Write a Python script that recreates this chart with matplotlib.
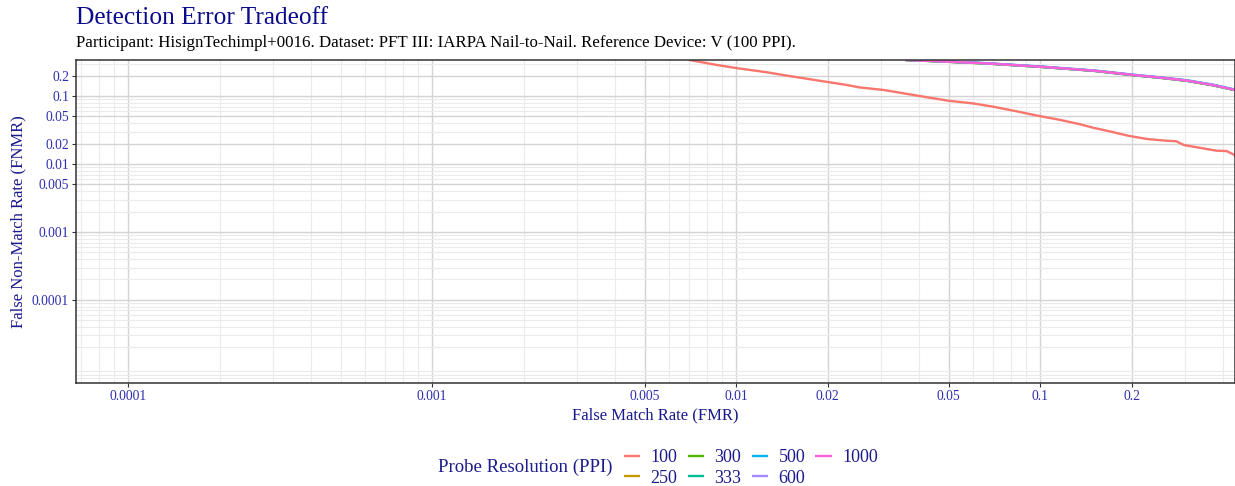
import matplotlib
matplotlib.use('Agg')
import matplotlib.pyplot as plt
from matplotlib.ticker import LogLocator, FixedLocator, FixedFormatter, NullFormatter

# Probe resolutions shown in the legend
resolutions = ['100', '250', '300', '333', '500', '600', '1000']
colors = ['#F8766D', '#C49A00', '#53B400', '#00C094', '#00B6EB', '#A58AFF', '#FB61D7']

# 100 PPI probe curve
fmr_100 = [0.0070, 0.0085, 0.0100, 0.0125, 0.0155, 0.0198, 0.0230, 0.0254, 0.0305, 0.0367,
           0.0430, 0.0499, 0.0600, 0.0700, 0.0830, 0.0980, 0.1150, 0.1340, 0.1500, 0.1710,
           0.1950, 0.2250, 0.2600, 0.2800, 0.2970, 0.3300, 0.3800, 0.4100, 0.4400]
fnmr_100 = [0.340, 0.290, 0.258, 0.225, 0.192, 0.162, 0.146, 0.134, 0.123, 0.107,
            0.095, 0.0853, 0.078, 0.0697, 0.060, 0.0514, 0.045, 0.0388, 0.034, 0.0299,
            0.026, 0.0233, 0.0220, 0.0216, 0.0190, 0.0175, 0.0157, 0.0155, 0.0133]

# the higher resolutions all sit on top of each other
fmr_high = [0.036, 0.050, 0.066, 0.100, 0.150, 0.202, 0.250, 0.305, 0.370, 0.440]
fnmr_250 = [0.339, 0.319, 0.302, 0.269, 0.235, 0.203, 0.185, 0.167, 0.144, 0.1212]
fnmr_300 = [0.339, 0.319, 0.302, 0.269, 0.235, 0.203, 0.185, 0.167, 0.144, 0.1214]
fnmr_333 = [0.339, 0.319, 0.302, 0.269, 0.235, 0.203, 0.185, 0.167, 0.144, 0.1216]
fnmr_500 = [0.342, 0.322, 0.305, 0.272, 0.238, 0.206, 0.188, 0.170, 0.147, 0.1235]
fnmr_600 = [0.341, 0.321, 0.304, 0.271, 0.237, 0.205, 0.187, 0.169, 0.146, 0.1228]
fnmr_1000 = [0.340, 0.320, 0.303, 0.270, 0.236, 0.204, 0.186, 0.168, 0.145, 0.122]

tick_values = [0.0001, 0.001, 0.005, 0.01, 0.02, 0.05, 0.1, 0.2]
tick_labels = ['0.0001', '0.001', '0.005', '0.01', '0.02', '0.05', '0.1', '0.2']

FONT = 'Liberation Serif'
TITLE_BLUE = '#0A0A8C'
LABEL_BLUE = '#1A1A8C'
TICK_BLUE = '#2E2EAE'


def main():
    fig = plt.figure(figsize=(12.35, 4.86), dpi=100)
    ax = fig.add_axes([76 / 1235, 1 - 383 / 486, 1 - 76 / 1235, (383 - 60) / 486])

    # curves
    series = [(fmr_100, fnmr_100), (fmr_high, fnmr_250), (fmr_high, fnmr_300), (fmr_high, fnmr_333),
              (fmr_high, fnmr_500), (fmr_high, fnmr_600), (fmr_high, fnmr_1000)]
    handles = []
    for (x, y), label, color in zip(series, resolutions, colors):
        line, = ax.plot(x, y, color=color, linewidth=1.7, label=label, solid_capstyle='butt')
        handles.append(line)

    ax.set_xscale('log')
    ax.set_yscale('log')
    ax.set_xlim(6.74e-5, 0.437)
    ax.set_ylim(6.0e-6, 0.339)

    # ticks and grid
    for axis in (ax.xaxis, ax.yaxis):
        axis.set_major_locator(FixedLocator(tick_values))
        axis.set_major_formatter(FixedFormatter(tick_labels))
        axis.set_minor_locator(LogLocator(base=10, subs=range(2, 10), numticks=20))
        axis.set_minor_formatter(NullFormatter())
    ax.tick_params(which='major', length=3, width=0.8, color='#333333', labelcolor=TICK_BLUE,
                   labelsize=9.8, pad=2)
    ax.tick_params(which='minor', length=0)
    for lab in ax.get_xticklabels() + ax.get_yticklabels():
        lab.set_fontfamily(FONT)
    ax.grid(which='major', color='#D4D4D4', linewidth=1.0)
    ax.grid(which='minor', color='#EBEBEB', linewidth=0.8)
    ax.set_axisbelow(True)

    for side in ['left', 'bottom', 'top', 'right']:
        ax.spines[side].set_color('#333333')
        ax.spines[side].set_linewidth(1.1)

    ax.set_xlabel('False Match Rate (FMR)', fontfamily=FONT, fontsize=12, color=LABEL_BLUE, labelpad=3)
    ax.set_ylabel('False Non-Match Rate (FNMR)', fontfamily=FONT, fontsize=12, color=LABEL_BLUE, labelpad=4)

    # titles
    fig.text(76 / 1235, 1 - 18 / 486, 'Detection Error Tradeoff', fontfamily=FONT, fontsize=18.3,
             color=TITLE_BLUE, va='center', ha='left')
    fig.text(76 / 1235, 1 - 43 / 486,
             'Participant: HisignTechimpl+0016. Dataset: PFT III: IARPA Nail-to-Nail. Reference Device: V (100 PPI).',
             fontfamily=FONT, fontsize=12.2, color='black', va='center', ha='left')

    # legend, title placed to the left like ggplot
    fig.text(612 / 1235, 1 - 467 / 486, 'Probe Resolution (PPI)', fontfamily=FONT, fontsize=13.5,
             color=LABEL_BLUE, va='center', ha='right')
    leg = fig.legend(handles=handles, loc='center left', bbox_to_anchor=(620 / 1235, 1 - 468 / 486),
                     ncol=4, frameon=False, prop={'family': FONT, 'size': 13},
                     handlelength=0.9, handletextpad=0.6, columnspacing=0.55, labelspacing=0.2,
                     borderpad=0.2, borderaxespad=0)
    for text in leg.get_texts():
        text.set_color(LABEL_BLUE)

    fig.savefig('out.png', dpi=100)


if __name__ == "__main__":
    main()
